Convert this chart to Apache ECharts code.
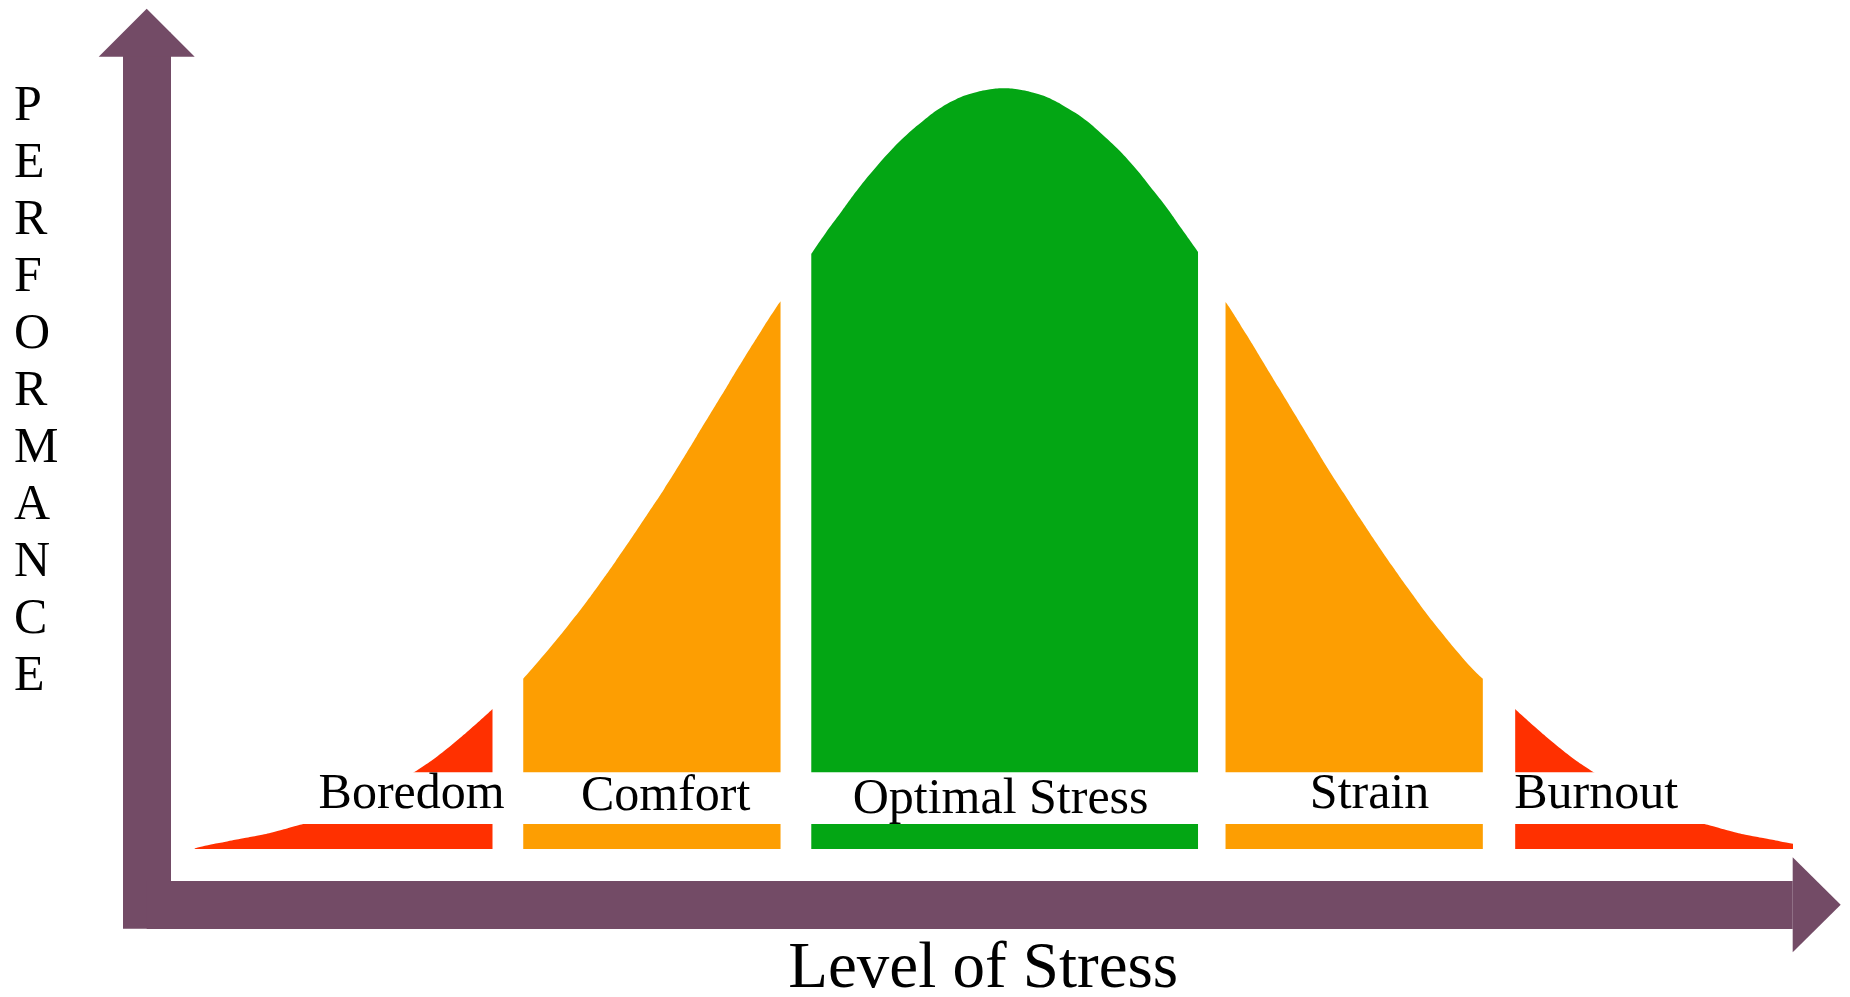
<!DOCTYPE html>
<html>
<head>
<meta charset="utf-8">
<title>Performance vs Level of Stress</title>
<script src="https://cdn.jsdelivr.net/npm/echarts@6/dist/echarts.min.js"></script>
<style>
  html,body{margin:0;padding:0;background:#fff;}
  #stress-curve{width:1850px;height:997px;}
</style>
</head>
<body>
<div id="stress-curve"></div>
<script>
  // stress level (x) and performance (y), one pair of lists per zone
  var boredomX = [0, 1, 2, 3, 4, 5, 6, 7, 8, 9, 10, 11, 12, 13, 14, 15, 16, 17, 18, 18.4];
  var boredomY = [0.1, 0.6, 1.0, 1.4, 1.8, 2.3, 2.9, 3.5, 4.2, 4.9, 5.8, 6.8, 7.9, 9.3, 10.7, 12.2, 13.9, 15.7, 17.6, 18.4];
  var comfortX = [20.3, 21, 22, 23, 24, 25, 26, 27, 28, 29, 30, 31, 32, 33, 34, 35, 36, 36.2];
  var comfortY = [22.4, 24.1, 26.6, 29.2, 31.9, 34.8, 37.8, 40.9, 44.1, 47.3, 50.7, 54.2, 57.7, 61.2, 64.7, 68.1, 71.4, 72.0];
  var optimalX = [38.1, 39, 40, 41, 42, 43, 44, 45, 46, 47, 48, 49, 50, 51, 52, 53, 54, 55, 56, 57, 58, 59, 60, 61, 62];
  var optimalY = [78.2, 81.0, 83.9, 86.8, 89.4, 91.8, 93.9, 95.7, 97.3, 98.5, 99.3, 99.8, 100, 99.8, 99.3, 98.5, 97.3, 95.9, 94.1, 92.1, 89.8, 87.2, 84.5, 81.5, 78.5];
  var strainX = [63.7, 64, 65, 66, 67, 68, 69, 70, 71, 72, 73, 74, 75, 76, 77, 78, 79, 79.6];
  var strainY = [71.9, 71.0, 67.6, 64.1, 60.6, 57.1, 53.6, 50.1, 46.8, 43.5, 40.3, 37.2, 34.2, 31.3, 28.6, 26.0, 23.6, 22.4];
  var burnoutX = [81.6, 82, 83, 84, 85, 86, 87, 88, 89, 90, 91, 92, 93, 94, 95, 96, 97, 98, 99, 100];
  var burnoutY = [18.4, 17.6, 15.7, 13.9, 12.2, 10.7, 9.3, 7.9, 6.8, 5.8, 4.9, 4.2, 3.5, 2.9, 2.3, 1.8, 1.4, 1.0, 0.6, 0.1];

  // zone captions and where they sit inside the white stripe
  var zoneNames = ['Boredom', 'Comfort', 'Optimal Stress', 'Strain', 'Burnout'];
  var labelX = [13.4, 29.1, 49.8, 72.6, 86.6];
  var labelY = [7.1, 6.8, 6.5, 7.1, 7.1];
  var labelBand = [3.3, 10.1];

  var zoneColors = ['#ff3000', '#fd9e02', '#03a614', '#fd9e02', '#ff3000'];
  var arrowColor = '#734b66';
  var serif = 'Liberation Serif, Times New Roman, serif';

  function pairs(xs, ys) {
    return xs.map(function (x, i) { return [x, ys[i]]; });
  }

  function zoneSeries(name, xs, ys, color) {
    return {
      name: name,
      type: 'line',
      data: pairs(xs, ys),
      smooth: 0.5,
      symbol: 'none',
      clip: false,
      silent: true,
      z: 2,
      lineStyle: {width: 0},
      areaStyle: {color: color, opacity: 1}
    };
  }

  var stressChart = echarts.init(document.getElementById('stress-curve'));

  var stressOption = {
    animation: false,
    backgroundColor: '#fff',
    title: {
      text: 'PERFORMANCE'.split('').join('\n'),
      left: 14,
      top: 78,
      padding: 0,
      textStyle: {fontFamily: serif, fontSize: 50, fontWeight: 'normal', lineHeight: 57, color: '#000'}
    },
    grid: {left: 146.7, right: 57.3, top: 56.7, bottom: 92.3, containLabel: false, outerBoundsMode: 'none'},
    xAxis: {
      type: 'value',
      min: -2.97,
      max: 98.75,
      name: 'Level of Stress',
      nameLocation: 'middle',
      nameGap: 33,
      nameTextStyle: {fontFamily: serif, fontSize: 65, color: '#000', padding: [0, 0, 0, 27]},
      axisLine: {
        show: true,
        onZero: false,
        symbol: ['none', 'triangle'],
        symbolSize: [95, 48],
        symbolOffset: [0, 24],
        lineStyle: {color: arrowColor, width: 48, cap: 'butt'}
      },
      axisTick: {show: false},
      axisLabel: {show: false},
      splitLine: {show: false}
    },
    yAxis: {
      type: 'value',
      min: -7.32,
      max: 104.15,
      axisLine: {
        show: true,
        onZero: false,
        symbol: ['none', 'triangle'],
        symbolSize: [96, 48],
        symbolOffset: [0, 24],
        lineStyle: {color: arrowColor, width: 48, cap: 'square'}
      },
      axisTick: {show: false},
      axisLabel: {show: false},
      splitLine: {show: false}
    },
    series: [
      zoneSeries(zoneNames[0], boredomX, boredomY, zoneColors[0]),
      zoneSeries(zoneNames[1], comfortX, comfortY, zoneColors[1]),
      zoneSeries(zoneNames[2], optimalX, optimalY, zoneColors[2]),
      zoneSeries(zoneNames[3], strainX, strainY, zoneColors[3]),
      zoneSeries(zoneNames[4], burnoutX, burnoutY, zoneColors[4]),
      // white stripe behind the captions
      {
        type: 'line', symbol: 'none', silent: true, clip: false, z: 3,
        lineStyle: {width: 0},
        areaStyle: {color: '#fff', opacity: 1, origin: labelBand[0]},
        data: [[0, labelBand[1]], [100, labelBand[1]]]
      },
      {
        type: 'scatter',
        symbolSize: 0,
        silent: true,
        clip: false,
        z: 5,
        itemStyle: {opacity: 1},
        label: {
          show: true,
          position: 'inside',
          formatter: '{b}',
          fontFamily: serif,
          fontSize: 50,
          color: '#000',
          opacity: 1,
          textBorderWidth: 0
        },
        data: zoneNames.map(function (n, i) { return {name: n, value: [labelX[i], labelY[i]]}; })
      }
    ]
  };

  stressOption && stressChart.setOption(stressOption);
</script>
</body>
</html>
